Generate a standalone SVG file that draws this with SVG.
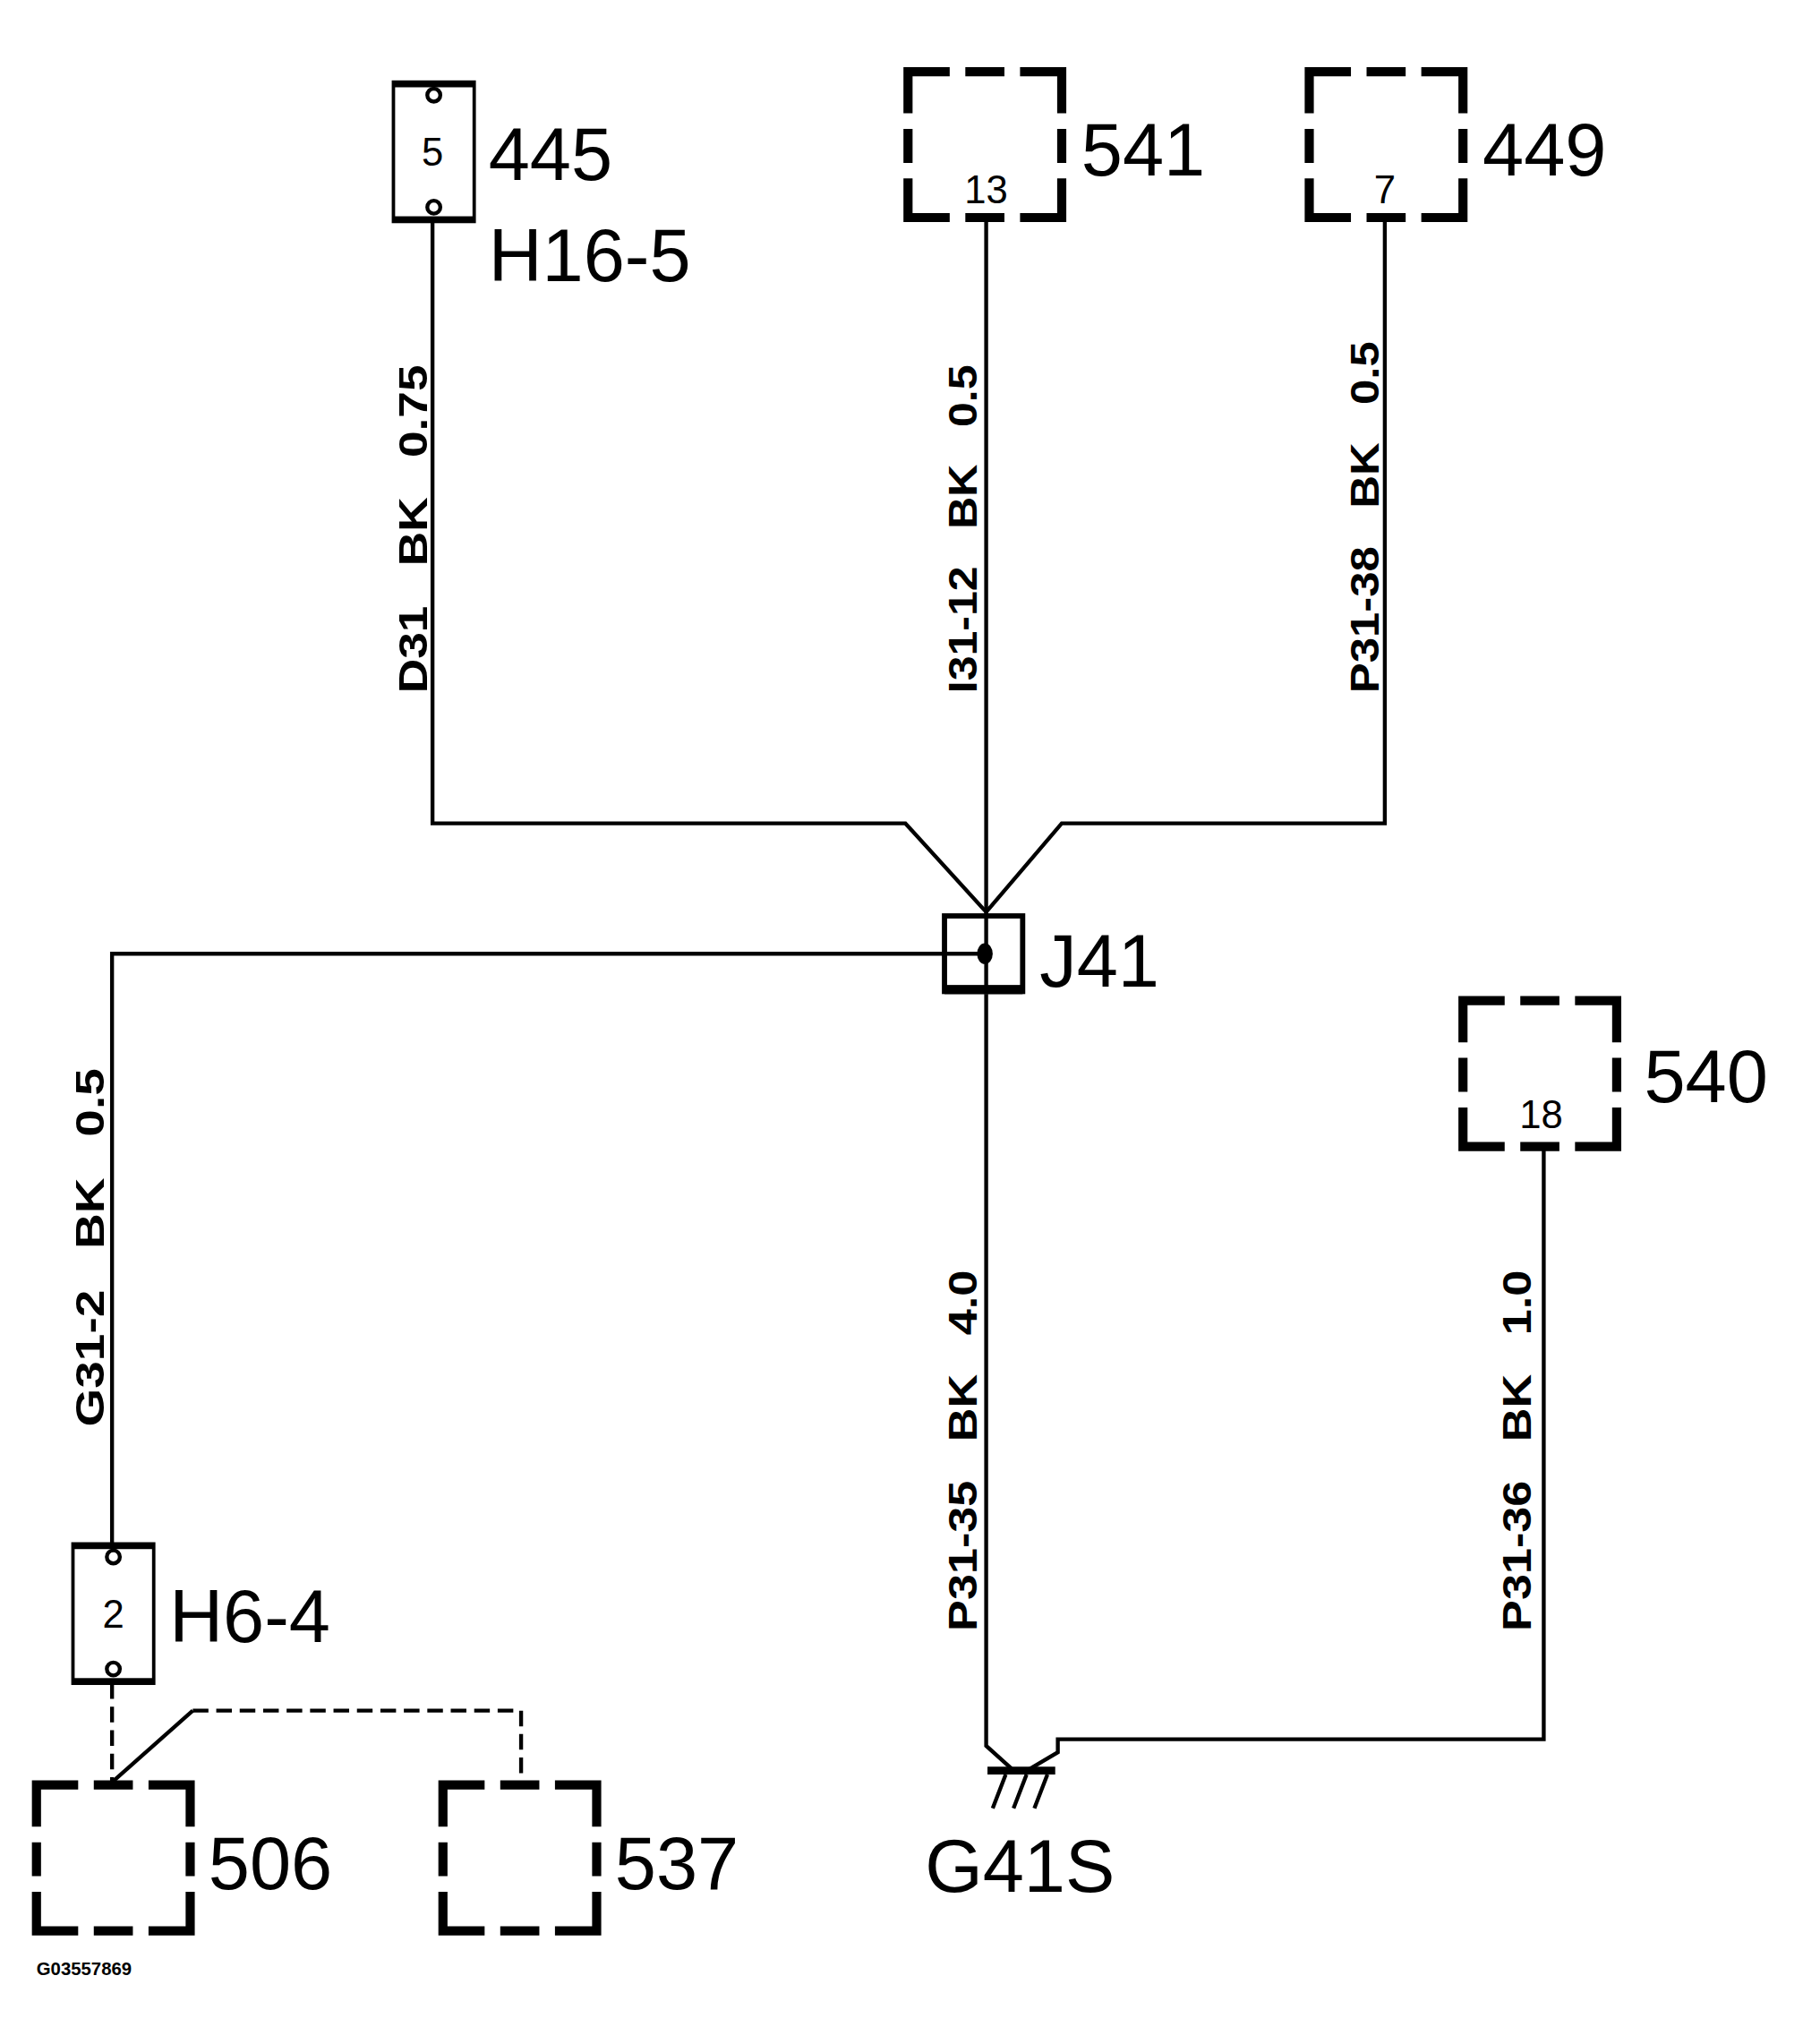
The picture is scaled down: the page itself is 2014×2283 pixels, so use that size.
<svg xmlns="http://www.w3.org/2000/svg" width="2014" height="2283" viewBox="0 0 2014 2283">
<style>
.w{fill:none;stroke:#000;stroke-width:3}
.d{fill:none;stroke:#000;stroke-width:3;stroke-dasharray:12 6}
.big{font-family:"Liberation Sans",Arial,sans-serif;font-size:57px;fill:#000}
.sm{font-family:"Liberation Sans",Arial,sans-serif;font-size:30px;fill:#000}
.wl{font-family:"Liberation Sans",Arial,sans-serif;font-size:30px;font-weight:bold;fill:#000}
.tiny{font-family:"Liberation Sans",Arial,sans-serif;font-size:14px;font-weight:bold;fill:#000}
</style>
<defs>
<path id="dbox" fill="none" stroke="#000" stroke-width="7" d="M0,32V0H32 M44,0H74 M86,0H118V32 M0,44V70 M118,44V70 M0,82V112H32 M44,112H74 M86,112H118V82"/>
<g id="hconn">
<rect x="0" y="0" width="62" height="107" fill="#fff" stroke="#000" stroke-width="2.6"/>
<rect x="0" y="0" width="62" height="4" fill="#000"/><rect x="0" y="103" width="62" height="4" fill="#000"/>
<circle cx="31" cy="10" r="5" fill="none" stroke="#000" stroke-width="3"/>
<circle cx="31" cy="96" r="5" fill="none" stroke="#000" stroke-width="3"/>
</g>
</defs>
<rect width="2014" height="2283" fill="#fff"/>
<g transform="scale(1.4552)">
<g id="connectors">
<path class="w" d="M332,170V632H695L757,700"/>
<path class="w" d="M757,165V702"/>
<path class="w" d="M1063,165V632H815L757,700"/>
<path class="w" d="M757,732H86V1185"/>
<path class="w" d="M757,763V1340L777,1358"/>
<path class="w" d="M790,1358L812,1345V1335H1185V882"/>
<path class="d" d="M86,1292V1368"/>
<path class="w" d="M86,1368L148,1313"/>
<path class="d" d="M148,1313H400V1368"/>
</g>
<g id="n445"><use href="#hconn" x="302" y="63"/><text class="sm" x="332" y="127" text-anchor="middle">5</text><text class="big" x="375" y="138">445</text><text class="big" x="375" y="216">H16-5</text></g>
<g id="n541"><use href="#dbox" x="697" y="55"/><text class="sm" x="757" y="156" text-anchor="middle">13</text><text class="big" x="830" y="135">541</text></g>
<g id="n449"><use href="#dbox" x="1005" y="55"/><text class="sm" x="1063" y="156" text-anchor="middle">7</text><text class="big" x="1138" y="135">449</text></g>
<g id="nJ41"><rect x="725" y="703" width="60" height="58" fill="none" stroke="#000" stroke-width="4"/><rect x="725" y="756" width="60" height="7" fill="#000"/><line x1="757" y1="703" x2="757" y2="763" class="w"/><ellipse cx="756" cy="732" rx="6" ry="8" fill="#000"/><text class="big" x="798" y="757">J41</text></g>
<g id="n540"><use href="#dbox" x="1123" y="768"/><text class="sm" x="1183" y="866" text-anchor="middle">18</text><text class="big" x="1262" y="846">540</text></g>
<g id="nH64"><use href="#hconn" x="56" y="1185"/><text class="sm" x="87" y="1249" text-anchor="middle">2</text><text class="big" x="130" y="1260">H6-4</text></g>
<g id="n506"><use href="#dbox" x="28" y="1370"/><text class="big" x="160" y="1450">506</text></g>
<g id="n537"><use href="#dbox" x="340" y="1370"/><text class="big" x="472" y="1450">537</text></g>
<g id="nG41S"><rect x="758" y="1356" width="52" height="6" fill="#000"/>
<path class="w" d="M772,1362L762,1388M788,1362L778,1388M804,1362L794,1388"/>
<text class="big" x="710" y="1452">G41S</text></g>
<g id="labels">
<text class="wl" transform="translate(328,532) rotate(-90)" textLength="252" lengthAdjust="spacingAndGlyphs" xml:space="preserve">D31   BK   0.75</text>
<text class="wl" transform="translate(750,532) rotate(-90)" textLength="252" lengthAdjust="spacingAndGlyphs" xml:space="preserve">I31-12   BK   0.5</text>
<text class="wl" transform="translate(1058,532) rotate(-90)" textLength="270" lengthAdjust="spacingAndGlyphs" xml:space="preserve">P31-38   BK   0.5</text>
<text class="wl" transform="translate(80,1095) rotate(-90)" textLength="275" lengthAdjust="spacingAndGlyphs" xml:space="preserve">G31-2   BK   0.5</text>
<text class="wl" transform="translate(750,1252) rotate(-90)" textLength="277" lengthAdjust="spacingAndGlyphs" xml:space="preserve">P31-35   BK   4.0</text>
<text class="wl" transform="translate(1175,1252) rotate(-90)" textLength="277" lengthAdjust="spacingAndGlyphs" xml:space="preserve">P31-36   BK   1.0</text>
<text class="tiny" x="28" y="1516">G03557869</text>
</g>
</g>
</svg>
